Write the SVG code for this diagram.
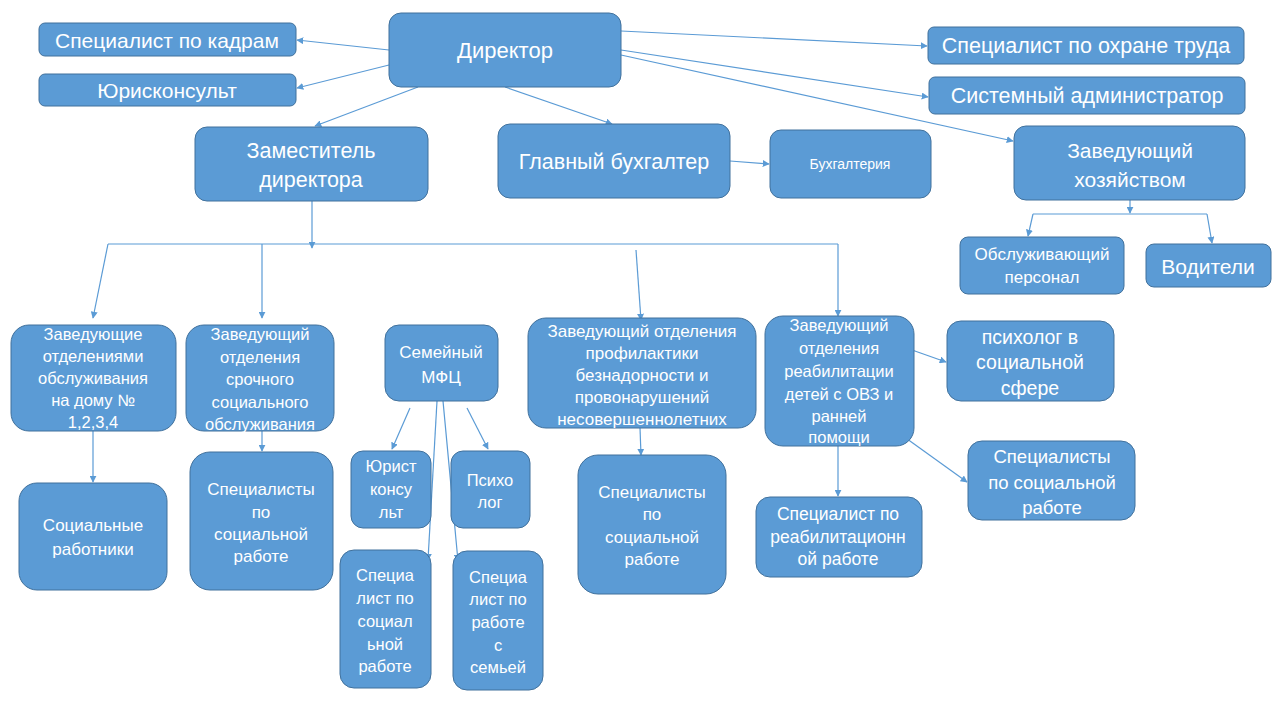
<svg xmlns="http://www.w3.org/2000/svg" width="1280" height="720" viewBox="0 0 1280 720">
<defs>
<marker id="ah" viewBox="0 0 10 10" refX="9" refY="5" markerWidth="7" markerHeight="7" orient="auto" markerUnits="userSpaceOnUse">
<path d="M0,0 L10,5 L0,10 z" fill="#5B9BD5"/>
</marker>
<style>
.b{fill:#5B9BD5;stroke:#41719C;stroke-width:1}
.t{fill:#fff;font-family:"Liberation Sans",Arial,sans-serif;text-anchor:middle;dominant-baseline:central}
.s{font-size:16.5px}
.c{stroke:#5B9BD5;stroke-width:1.2;fill:none}
.a{marker-end:url(#ah)}
</style>
</defs>
<rect width="1280" height="720" fill="#fff"/>
<g id="connectors">
<line class="c a" x1="389" y1="50" x2="297" y2="40"/>
<line class="c a" x1="389" y1="65" x2="297" y2="88"/>
<line class="c a" x1="418" y1="87" x2="315" y2="126"/>
<line class="c a" x1="505" y1="87" x2="612" y2="124"/>
<line class="c a" x1="621" y1="31" x2="927" y2="46"/>
<line class="c a" x1="621" y1="50" x2="928" y2="97"/>
<line class="c a" x1="621" y1="55" x2="1013" y2="141"/>
<line class="c a" x1="730" y1="161" x2="769" y2="164"/>
<line class="c a" x1="312" y1="201" x2="312" y2="248"/>
<polyline class="c" points="838,244 108,244"/>
<line class="c a" x1="108" y1="244" x2="93" y2="318"/>
<line class="c a" x1="262" y1="244" x2="262" y2="318"/>
<line class="c a" x1="636" y1="250" x2="641" y2="320"/>
<line class="c a" x1="838" y1="244" x2="838" y2="316"/>
<line class="c a" x1="1130" y1="200" x2="1130" y2="213"/>
<polyline class="c" points="1033,214 1207,214"/>
<line class="c a" x1="1033" y1="214" x2="1028" y2="236"/>
<line class="c a" x1="1207" y1="214" x2="1212" y2="243"/>
<line class="c a" x1="93" y1="431" x2="93" y2="482"/>
<line class="c a" x1="262" y1="431" x2="262" y2="451"/>
<line class="c a" x1="410" y1="408" x2="392" y2="449"/>
<line class="c a" x1="467" y1="408" x2="488" y2="449"/>
<line class="c a" x1="437" y1="401" x2="428" y2="560"/>
<line class="c a" x1="443" y1="401" x2="458" y2="561"/>
<line class="c a" x1="640" y1="428" x2="641" y2="455"/>
<line class="c a" x1="838" y1="446" x2="838" y2="496"/>
<line class="c a" x1="912" y1="350" x2="946" y2="362"/>
<line class="c a" x1="903" y1="436" x2="967" y2="482"/>
</g>
<g id="n-director"><rect class="b" x="389" y="13" width="232" height="74" rx="12"/><text class="t" x="505" y="50" font-size="22">Директор</text></g>
<g id="n-kadry"><rect class="b" x="39" y="23" width="257" height="33" rx="6"/><text class="t" x="167" y="40" font-size="21">Специалист по кадрам</text></g>
<g id="n-jurist"><rect class="b" x="39" y="74" width="257" height="32" rx="6"/><text class="t" x="167" y="90" font-size="21">Юрисконсульт</text></g>
<g id="n-ohrana"><rect class="b" x="928" y="27" width="316" height="37" rx="6"/><text class="t" x="1086" y="46" font-size="21.5">Специалист по охране труда</text></g>
<g id="n-sysadm"><rect class="b" x="929" y="77" width="316" height="37" rx="6"/><text class="t" x="1087" y="96" font-size="21.5">Системный администратор</text></g>
<g id="n-zam"><rect class="b" x="195" y="127" width="233" height="74" rx="12"/><text class="t" x="311" y="151" font-size="21.5">Заместитель</text><text class="t" x="311" y="180" font-size="21.5">директора</text></g>
<g id="n-glavbuh"><rect class="b" x="498" y="124" width="232" height="74" rx="12"/><text class="t" x="614" y="162" font-size="21.5">Главный бухгалтер</text></g>
<g id="n-buh"><rect class="b" x="770" y="130" width="161" height="68" rx="11"/><text class="t" x="850" y="164" font-size="14">Бухгалтерия</text></g>
<g id="n-zavhoz"><rect class="b" x="1014" y="126" width="231" height="74" rx="12"/><text class="t" x="1130" y="150" font-size="21">Заведующий</text><text class="t" x="1130" y="179" font-size="21">хозяйством</text></g>
<g id="n-obsl"><rect class="b" x="960" y="237" width="164" height="57" rx="8"/><text class="t" x="1042" y="254" font-size="17">Обслуживающий</text><text class="t" x="1042" y="277" font-size="17">персонал</text></g>
<g id="n-voditeli"><rect class="b" x="1146" y="244" width="125" height="43" rx="8"/><text class="t" x="1208" y="266" font-size="21">Водители</text></g>
<g id="n-zavdom"><rect class="b" x="11" y="325" width="165" height="106" rx="18"/><text class="t s"><tspan x="93" y="334">Заведующие</tspan><tspan x="93" y="356">отделениями</tspan><tspan x="93" y="378">обслуживания</tspan><tspan x="93" y="400">на дому №</tspan><tspan x="93" y="422">1,2,3,4</tspan></text></g>
<g id="n-zavsroch"><rect class="b" x="186" y="325" width="148" height="106" rx="18"/><text class="t s"><tspan x="260" y="334">Заведующий</tspan><tspan x="260" y="357">отделения</tspan><tspan x="260" y="379">срочного</tspan><tspan x="260" y="402">социального</tspan><tspan x="260" y="424">обслуживания</tspan></text></g>
<g id="n-mfc"><rect class="b" x="385" y="325" width="113" height="76" rx="14"/><text class="t" font-size="17"><tspan x="441" y="352">Семейный</tspan><tspan x="441" y="377">МФЦ</tspan></text></g>
<g id="n-zavprof"><rect class="b" x="528" y="318" width="228" height="110" rx="18"/><text class="t" font-size="17"><tspan x="642" y="331">Заведующий отделения</tspan><tspan x="642" y="353">профилактики</tspan><tspan x="642" y="375">безнадорности и</tspan><tspan x="642" y="397">провонарушений</tspan><tspan x="642" y="419">несовершеннолетних</tspan></text></g>
<g id="n-zavreab"><rect class="b" x="765" y="316" width="149" height="130" rx="18"/><text class="t s"><tspan x="839" y="325">Заведующий</tspan><tspan x="839" y="348">отделения</tspan><tspan x="839" y="371">реабилитации</tspan><tspan x="839" y="394">детей с ОВЗ и</tspan><tspan x="839" y="416">ранней</tspan><tspan x="839" y="437">помощи</tspan></text></g>
<g id="n-psysoc"><rect class="b" x="947" y="321" width="167" height="80" rx="14"/><text class="t" font-size="19.5"><tspan x="1030" y="337">психолог в</tspan><tspan x="1030" y="362">социальной</tspan><tspan x="1030" y="388">сфере</tspan></text></g>
<g id="n-specsoc-r"><rect class="b" x="968" y="441" width="167" height="79" rx="14"/><text class="t" font-size="18.5"><tspan x="1052" y="456">Специалисты</tspan><tspan x="1052" y="482">по социальной</tspan><tspan x="1052" y="507">работе</tspan></text></g>
<g id="n-specreab"><rect class="b" x="756" y="497" width="166" height="80" rx="14"/><text class="t" font-size="17.5"><tspan x="838" y="514">Специалист по</tspan><tspan x="838" y="537">реабилитационн</tspan><tspan x="838" y="559">ой работе</tspan></text></g>
<g id="n-socrab"><rect class="b" x="19" y="483" width="148" height="107" rx="18"/><text class="t" font-size="17"><tspan x="93" y="525">Социальные</tspan><tspan x="93" y="549">работники</tspan></text></g>
<g id="n-specsoc-2"><rect class="b" x="190" y="452" width="143" height="138" rx="20"/><text class="t" font-size="17"><tspan x="261" y="489">Специалисты</tspan><tspan x="261" y="512">по</tspan><tspan x="261" y="534">социальной</tspan><tspan x="261" y="556">работе</tspan></text></g>
<g id="n-jurkons"><rect class="b" x="351" y="451" width="80" height="77" rx="12"/><text class="t s"><tspan x="391" y="466">Юрист</tspan><tspan x="391" y="489">консу</tspan><tspan x="391" y="512">льт</tspan></text></g>
<g id="n-psiholog"><rect class="b" x="451" y="451" width="79" height="77" rx="12"/><text class="t s"><tspan x="490" y="480">Психо</tspan><tspan x="490" y="502">лог</tspan></text></g>
<g id="n-specsoc-mfc"><rect class="b" x="340" y="550" width="91" height="138" rx="14"/><text class="t s"><tspan x="385" y="575">Специа</tspan><tspan x="385" y="598">лист по</tspan><tspan x="385" y="621">социал</tspan><tspan x="385" y="644">ьной</tspan><tspan x="385" y="666">работе</tspan></text></g>
<g id="n-specsem"><rect class="b" x="453" y="551" width="90" height="139" rx="14"/><text class="t s"><tspan x="498" y="577">Специа</tspan><tspan x="498" y="599">лист по</tspan><tspan x="498" y="622">работе</tspan><tspan x="498" y="645">с</tspan><tspan x="498" y="667">семьей</tspan></text></g>
<g id="n-specsoc-prof"><rect class="b" x="578" y="455" width="148" height="139" rx="20"/><text class="t" font-size="17"><tspan x="652" y="492">Специалисты</tspan><tspan x="652" y="514">по</tspan><tspan x="652" y="537">социальной</tspan><tspan x="652" y="559">работе</tspan></text></g>
</svg>
